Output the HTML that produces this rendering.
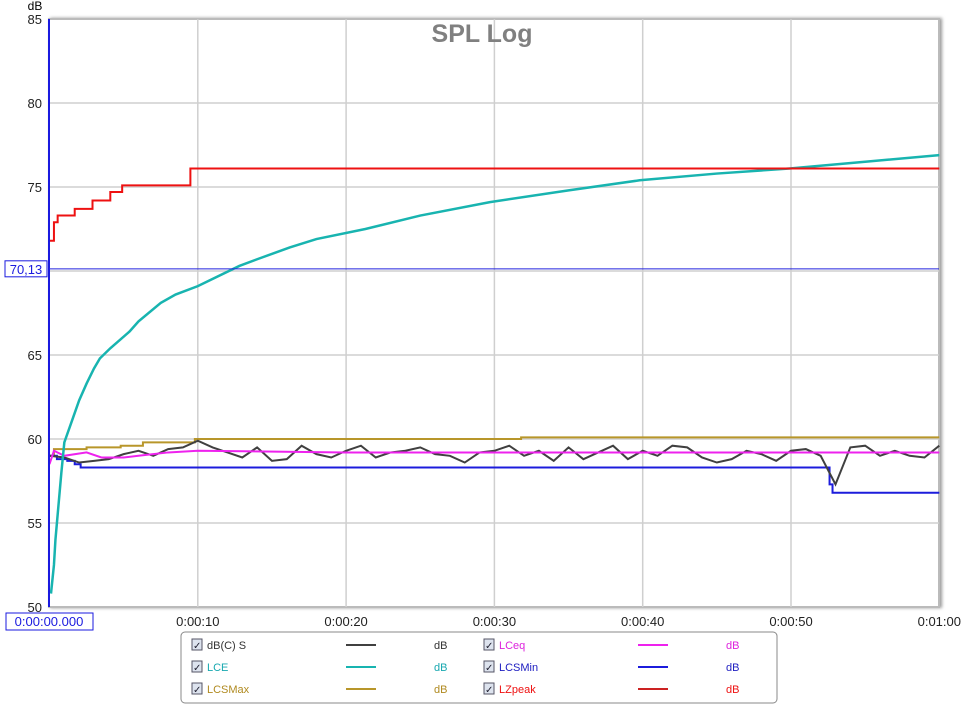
<!DOCTYPE html>
<html><head><meta charset="utf-8"><style>
body{margin:0;background:#fff;font-family:"Liberation Sans",sans-serif;}
svg text{font-family:"Liberation Sans",sans-serif;}
</style></head><body>
<svg id="chart" width="963" height="706">
<defs><filter id="sh" x="-5%" y="-5%" width="110%" height="110%"><feDropShadow dx="2" dy="0" stdDeviation="1.5" flood-color="#999"/></filter></defs>
<rect x="49" y="19" width="890" height="588" fill="#fff" stroke="#bbb" stroke-width="2" filter="url(#sh)"/>
<g id="grid"></g>
<text x="482" y="42" text-anchor="middle" font-size="25" font-weight="bold" fill="#808080">SPL Log</text>
<text x="35" y="10" text-anchor="middle" font-size="12" fill="#000">dB</text>
<g id="series"></g>
<line x1="49" y1="19" x2="49" y2="607" stroke="#1a1adf" stroke-width="2"/>
<line id="mk" x1="49" x2="939" stroke="#2222dd" stroke-width="1"/>
<rect id="mkbox" x="5" width="42" height="16" fill="#fff" stroke="#1a1adf"/>
<text id="mkt" x="26" text-anchor="middle" font-size="13" fill="#1a1adf">70,13</text>
<rect x="6" y="613" width="87" height="17" fill="#fff" stroke="#1a1adf"/>
<text x="49" y="626" text-anchor="middle" font-size="13" fill="#1a1adf">0:00:00.000</text>
<g id="legend">
<rect x="181" y="632" width="596" height="71" rx="4" fill="#fff" stroke="#888"/>
</g>
</svg>
<script>
const yTicks=[50,55,60,65,75,80,85];
const xTicks=[10,20,30,40,50,60];
const xTickLabels=["0:00:10","0:00:20","0:00:30","0:00:40","0:00:50","0:01:00"];
const markerValue=70.13;
const redT=[0,0.3,0.55,1.7,2.9,4.1,4.9,9.5,60];
const redV=[71.8,72.9,73.3,73.7,74.2,74.7,75.1,76.1,76.1];
const lceT=[0.1,0.3,0.4,0.6,0.8,1,1.6,2,2.5,3,3.4,4.1,5.4,6,7.5,8.5,10,12.8,14,16.2,18,21.3,25,29.7,35,39.8,45,49.9,55,60];
const lceV=[50.8,52.5,54,56,58,59.8,61.3,62.3,63.3,64.2,64.8,65.4,66.4,67,68.1,68.6,69.1,70.3,70.7,71.4,71.9,72.5,73.3,74.1,74.8,75.4,75.8,76.1,76.5,76.9];
const minT=[0,0.5,1.2,1.7,2.1,52.6,52.8,60];
const minV=[59.0,58.8,58.7,58.5,58.3,57.3,56.8,56.8];
const maxT=[0,0.3,2.5,4.8,6.3,9.8,31.8,60];
const maxV=[59.0,59.4,59.5,59.6,59.8,60.0,60.1,60.1];
const eqT=[0,0.3,1,2.5,3.5,5,6,8,10,20,30,40,50,60];
const eqV=[58.5,59.3,59.0,59.2,58.9,58.9,59.0,59.2,59.3,59.2,59.2,59.2,59.2,59.2];
const sV=[59.0,58.9,58.6,58.7,58.8,59.1,59.3,59.0,59.4,59.5,59.9,59.5,59.2,58.9,59.5,58.7,58.8,59.6,59.1,58.9,59.3,59.6,58.9,59.2,59.3,59.5,59.1,59.0,58.6,59.2,59.3,59.6,59.0,59.3,58.7,59.5,58.8,59.2,59.6,58.8,59.3,59.0,59.6,59.5,58.9,58.6,58.8,59.3,59.1,58.7,59.3,59.4,59.0,57.3,59.5,59.6,59.0,59.3,59.0,58.9,59.6];
const X=t=>49.5+t*14.83, Y=v=>607-(v-50)*16.8;
const NS="http://www.w3.org/2000/svg";
const grid=document.getElementById('grid'), ser=document.getElementById('series'), svg=document.getElementById('chart');
function mk(tag,attrs,parent){const e=document.createElementNS(NS,tag);for(const k in attrs)e.setAttribute(k,attrs[k]);parent.appendChild(e);return e;}
[55,60,65,70,75,80].forEach(v=>{const l=mk('line',{x1:49,x2:939,y1:Y(v),y2:Y(v),stroke:'#cfcfcf','stroke-width':1.5},grid);
  
  });
yTicks.forEach(v=>{
  const t=mk('text',{x:42,y:Y(v)+5,'text-anchor':'end','font-size':13,fill:'#222'},svg);t.textContent=v;
  
  
});
xTicks.forEach((s,i)=>{
  if(s<60){const l=mk('line',{x1:X(s),x2:X(s),y1:19,y2:607,stroke:'#cfcfcf','stroke-width':1.5},grid);
  
  }
  const t=mk('text',{x:X(s),y:626,'text-anchor':'middle','font-size':13,fill:'#222'},svg);t.textContent=xTickLabels[i];
  
  
});
function stepPts(T,V){let p=[];for(let i=0;i<T.length;i++){if(i>0)p.push(X(T[i])+','+Y(V[i-1]));p.push(X(T[i])+','+Y(V[i]));}return p.join(' ');}
function linePts(T,V){return T.map((t,i)=>X(t)+','+Y(V[i])).join(' ');}
function draw(pts,color,name,w){const p=mk('polyline',{points:pts,fill:'none',stroke:color,'stroke-width':w||2},ser);
  
  }
const sT=sV.map((v,i)=>i);
draw(stepPts(maxT,maxV),'#b8962a','lcsmax-line');
draw(stepPts(minT,minV),'#1c1cdc','lcsmin-line');
draw(linePts(sT,sV),'#404040','dbc-s-line');
draw(linePts(eqT,eqV),'#ee22ee','lceq-line');
draw(linePts(lceT,lceV),'#18b4b0','lce-line',2.5);
draw(stepPts(redT,redV),'#ee1111','lzpeak-line');
const my=Y(markerValue);
document.getElementById('mk').setAttribute('y1',my);document.getElementById('mk').setAttribute('y2',my);
document.getElementById('mkbox').setAttribute('y',my-8);document.getElementById('mkt').setAttribute('y',my+5);
const leg=[["dB(C) S","#404040","#333",0,0],["LCE","#18b4b0","#18a8b0",0,1],["LCSMax","#b8962a","#b08a20",0,2],["LCeq","#ee22ee","#dd22dd",1,0],["LCSMin","#1c1cdc","#1c1cc0",1,1],["LZpeak","#cc2222","#ee1111",1,2]];
const lg=document.getElementById('legend');
leg.forEach(([n,c,tc,col,row])=>{
  const ox=col?483:191, y=645+row*22;
  const cb=mk('rect',{x:ox+1,y:y-6,width:10,height:11,fill:'#dde3ee',stroke:'#556'},lg);
  
  
  const ck=mk('text',{x:ox+2,y:y+4,'font-size':10,fill:'#223'},lg);ck.textContent='✓';
  const t=mk('text',{x:ox+16,y:y+4,'font-size':11,fill:tc},lg);t.textContent=n;
  
  
  const l=mk('line',{x1:ox+155,x2:ox+185,y1:y,y2:y,stroke:c,'stroke-width':2},lg);
  
  
  const u=mk('text',{x:ox+243,y:y+4,'font-size':11,fill:tc},lg);u.textContent='dB';
  
  
});
</script>
</body></html>
